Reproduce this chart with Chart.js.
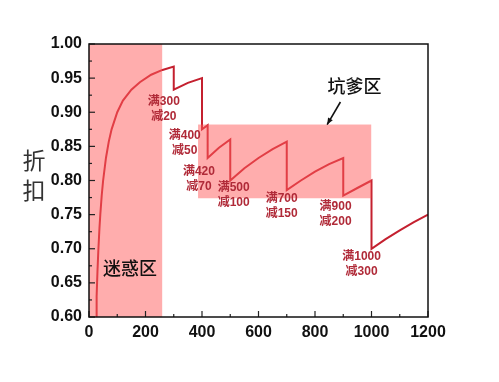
<!DOCTYPE html>
<html>
<head>
<meta charset="utf-8">
<script src="https://cdn.jsdelivr.net/npm/chart.js@4/dist/chart.umd.min.js"></script>
<style>
  html, body { margin: 0; padding: 0; background: #fff; }
</style>
</head>
<body>
<canvas id="discountChart" width="499" height="382"></canvas>
<script>
// spend amount vs. effective discount
const curveX = [25, 27, 30, 33, 37, 40, 45, 50, 60, 70, 80, 100, 120, 150, 180, 220, 260, 300,
  300, 350, 400, 400, 420, 420, 460, 500, 500, 550, 600, 650, 700,
  700, 750, 800, 850, 900, 900, 950, 1000, 1000, 1050, 1100, 1150, 1200];
const curveY = [0.600, 0.630, 0.667, 0.697, 0.730, 0.750, 0.778, 0.800, 0.833, 0.857, 0.875, 0.900, 0.917, 0.933, 0.944, 0.955, 0.962, 0.967,
  0.933, 0.943, 0.950, 0.875, 0.881, 0.833, 0.848, 0.860, 0.800, 0.818, 0.833, 0.846, 0.857,
  0.786, 0.800, 0.813, 0.824, 0.833, 0.778, 0.789, 0.800, 0.700, 0.714, 0.727, 0.739, 0.750];

// promo labels: top line, bottom line, anchor (data coords of top line)
const promoTop = ['满300', '满400', '满420', '满500', '满700', '满900', '满1000'];
const promoBottom = ['减20', '减50', '减70', '减100', '减150', '减200', '减300'];
const promoX = [265, 339, 389, 512, 682, 873, 965];
const promoY = [0.915, 0.865, 0.8125, 0.789, 0.774, 0.761, 0.689];

// shaded zones: [xFrom, xTo, yFrom, yTo]
const zoneConfuse = [0, 259, 0.6, 1.0];
const zoneTrap = [386, 999, 0.774, 0.882];
const zoneNames = ['迷惑区', '坑爹区'];

const xTicks = [0, 200, 400, 600, 800, 1000, 1200];
const yTicks = [0.60, 0.65, 0.70, 0.75, 0.80, 0.85, 0.90, 0.95, 1.00];

const points = curveX.map((x, i) => ({ x: x, y: curveY[i] }));

const overlayPlugin = {
  id: 'overlay',
  afterDatasetsDraw(chart) {
    const ctx = chart.ctx;
    const xs = chart.scales.x, ys = chart.scales.y;
    const area = chart.chartArea;
    ctx.save();

    // pink zones, drawn over the curve so it shows through lighter
    ctx.fillStyle = 'rgba(255, 92, 92, 0.5)';
    [zoneConfuse, zoneTrap].forEach(z => {
      const l = xs.getPixelForValue(z[0]), r = xs.getPixelForValue(z[1]);
      const t = ys.getPixelForValue(z[3]), b = ys.getPixelForValue(z[2]);
      ctx.fillRect(l, t, r - l, b - t);
    });

    // inward tick marks
    ctx.strokeStyle = '#222';
    ctx.lineWidth = 1.2;
    for (let v = 0; v <= 1200; v += 100) {
      const px = xs.getPixelForValue(v);
      const len = v % 200 === 0 ? 6 : 3;
      ctx.beginPath();
      ctx.moveTo(px, area.bottom);
      ctx.lineTo(px, area.bottom - len);
      ctx.stroke();
    }
    for (let i = 0; i <= 16; i++) {
      const v = 0.6 + i * 0.025;
      const py = ys.getPixelForValue(v);
      const len = i % 2 === 0 ? 6 : 3;
      ctx.beginPath();
      ctx.moveTo(area.left, py);
      ctx.lineTo(area.left + len, py);
      ctx.stroke();
    }

    // frame
    ctx.strokeStyle = '#111';
    ctx.lineWidth = 1.5;
    ctx.strokeRect(area.left, area.top, area.right - area.left, area.bottom - area.top);

    // promo labels
    ctx.fillStyle = '#b02a38';
    ctx.font = 'bold 12px "Liberation Sans", "Noto Sans CJK SC", sans-serif';
    ctx.textAlign = 'center';
    ctx.textBaseline = 'middle';
    promoTop.forEach((txt, i) => {
      const px = xs.getPixelForValue(promoX[i]);
      const py = ys.getPixelForValue(promoY[i]);
      ctx.fillText(txt, px, py);
      ctx.fillText(promoBottom[i], px, py + 15);
    });

    // zone names
    ctx.fillStyle = '#111';
    ctx.font = '500 18px "Noto Sans CJK SC", sans-serif';
    ctx.fillText(zoneNames[0], xs.getPixelForValue(145), ys.getPixelForValue(0.672));
    ctx.fillText(zoneNames[1], xs.getPixelForValue(940), ys.getPixelForValue(0.938));

    // arrow toward the trap zone
    const ax1 = xs.getPixelForValue(890), ay1 = ys.getPixelForValue(0.915);
    const ax2 = xs.getPixelForValue(843), ay2 = ys.getPixelForValue(0.882);
    ctx.strokeStyle = '#111';
    ctx.lineWidth = 1.6;
    ctx.beginPath();
    ctx.moveTo(ax1, ay1);
    ctx.lineTo(ax2, ay2);
    ctx.stroke();
    const ang = Math.atan2(ay2 - ay1, ax2 - ax1);
    ctx.fillStyle = '#111';
    ctx.beginPath();
    ctx.moveTo(ax2, ay2);
    ctx.lineTo(ax2 - 7 * Math.cos(ang - 0.4), ay2 - 7 * Math.sin(ang - 0.4));
    ctx.lineTo(ax2 - 7 * Math.cos(ang + 0.4), ay2 - 7 * Math.sin(ang + 0.4));
    ctx.closePath();
    ctx.fill();

    // y axis title, stacked vertically
    ctx.fillStyle = '#333';
    ctx.font = '23px "Noto Sans CJK SC", sans-serif';
    ctx.fillText('折', 34, 160);
    ctx.fillText('扣', 34, 190);

    ctx.restore();
  }
};

new Chart(document.getElementById('discountChart').getContext('2d'), {
  type: 'scatter',
  data: {
    datasets: [{
      data: points,
      showLine: true,
      borderColor: '#c4202f',
      borderWidth: 2,
      pointRadius: 0,
      tension: 0
    }]
  },
  options: {
    responsive: false,
    animation: false,
    layout: { padding: { top: 44, right: 71, left: 0, bottom: 0 } },
    plugins: {
      legend: { display: false },
      tooltip: { enabled: false }
    },
    scales: {
      x: {
        type: 'linear',
        min: 0,
        max: 1200,
        afterBuildTicks: s => { s.ticks = xTicks.map(v => ({ value: v })); },
        afterFit: s => { s.height = 65; },
        grid: { display: false },
        border: { display: false },
        ticks: {
          padding: -2,
          color: '#111',
          callback: v => String(v),
          font: { family: '"Liberation Sans", Arial, sans-serif', size: 16, weight: 'bold' }
        }
      },
      y: {
        min: 0.6,
        max: 1.0,
        afterBuildTicks: s => { s.ticks = yTicks.map(v => ({ value: v })); },
        afterFit: s => { s.width = 89; },
        grid: { display: false },
        border: { display: false },
        ticks: {
          padding: -1,
          color: '#111',
          callback: v => Number(v).toFixed(2),
          font: { family: '"Liberation Sans", Arial, sans-serif', size: 16, weight: 'bold' }
        }
      }
    }
  },
  plugins: [overlayPlugin]
});
</script>
</body>
</html>
